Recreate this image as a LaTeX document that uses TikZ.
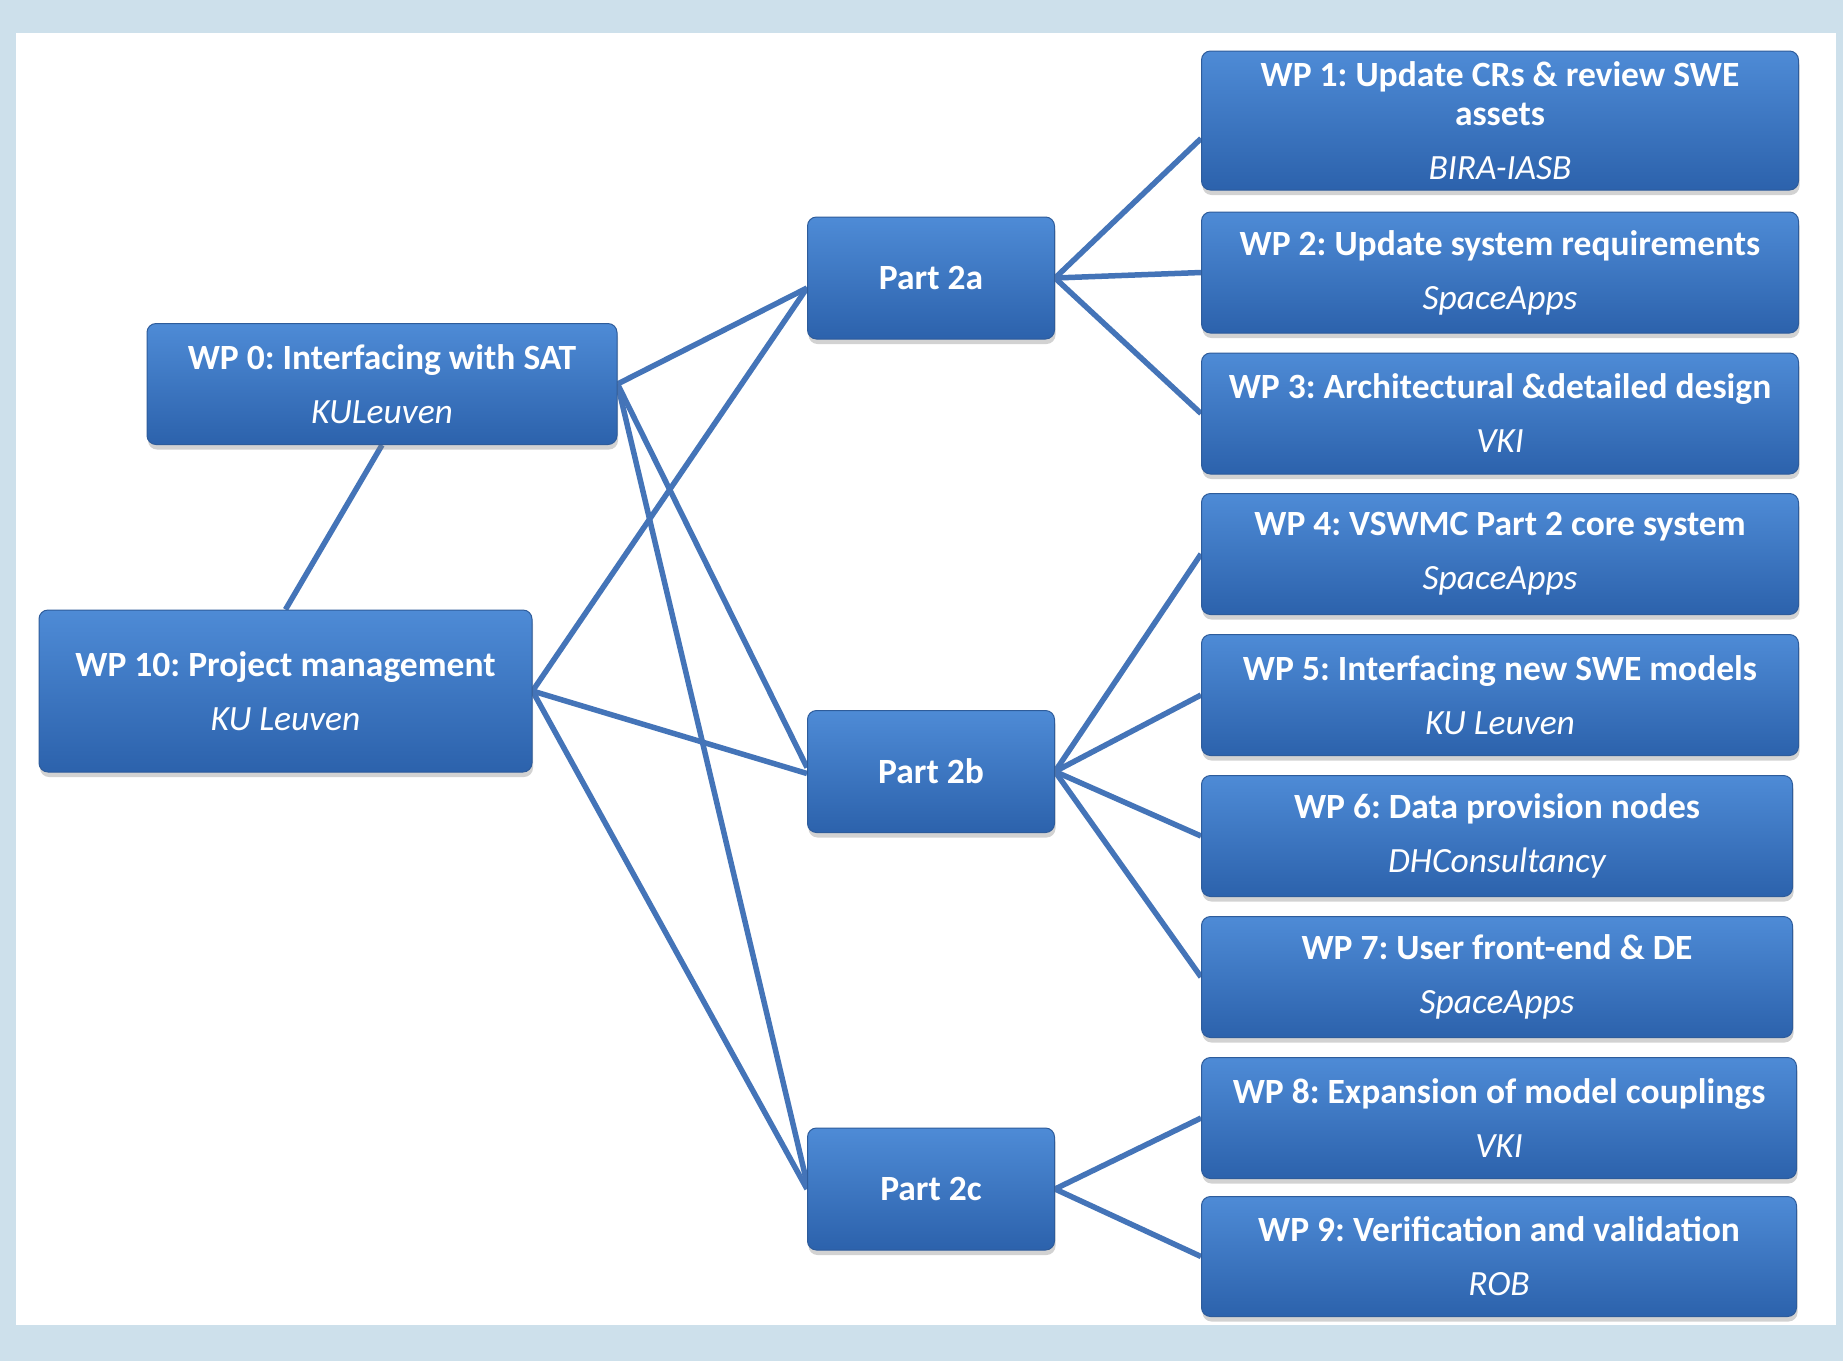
\documentclass[tikz,border=0pt]{standalone}
\usepackage{fontspec}
\setmainfont{Carlito}
\usetikzlibrary{shadows}
\definecolor{bgblue}{RGB}{205,224,235}
\definecolor{linecol}{RGB}{68,116,184}
\definecolor{boxtop}{RGB}{78,139,214}
\definecolor{boxmid}{RGB}{58,118,196}
\definecolor{boxbot}{RGB}{44,98,172}
\definecolor{boxedge}{RGB}{46,92,155}
\newcommand{\wporg}[1]{{\mdseries\itshape #1}}
\pgfdeclarelayer{back}
\pgfdeclarelayer{edges}
\pgfsetlayers{back,edges,main}
\frenchspacing
\begin{document}
\begin{tikzpicture}[x=1pt,y=-1pt,
  wpbox/.style={rectangle, rounded corners=9pt, draw=boxedge, line width=1pt,
    top color=boxtop, middle color=boxmid, bottom color=boxbot, text=white, align=center, inner sep=0pt,
    font=\frenchspacing\fontsize{35.5}{39}\selectfont\bfseries,
    drop shadow={shadow xshift=1pt, shadow yshift=-5pt, opacity=0.35}},
  conn/.style={draw=linecol, line width=5.5pt}]
\begin{pgfonlayer}{back}
\fill[bgblue] (0,0) rectangle (1843,1361);
\fill[white] (16,33) rectangle (1836,1325);
\end{pgfonlayer}
\useasboundingbox (0,0) rectangle (1843,1361);

\node[wpbox, minimum width=470pt, minimum height=121pt] (wp0) at (382,384)
  {WP 0: Interfacing with SAT\\[15pt]\wporg{KULeuven}};
\node[wpbox, minimum width=493pt, minimum height=162pt] (wp10) at (285.5,691)
  {WP 10: Project management\\[15pt]\wporg{KU Leuven}};

\node[wpbox, minimum width=247pt, minimum height=122pt] (p2a) at (931,278) {Part 2a};
\node[wpbox, minimum width=247pt, minimum height=122pt] (p2b) at (931,771.5) {Part 2b};
\node[wpbox, minimum width=247pt, minimum height=122pt] (p2c) at (931,1189) {Part 2c};

\node[wpbox, minimum width=597pt, minimum height=139pt] (wp1) at (1500,120.5)
  {WP 1: Update CRs \& review SWE\\assets\\[15pt]\wporg{BIRA-IASB}};
\node[wpbox, minimum width=597pt, minimum height=121pt] (wp2) at (1500,272.5)
  {WP 2: Update system requirements\\[15pt]\wporg{SpaceApps}};
\node[wpbox, minimum width=597pt, minimum height=121pt] (wp3) at (1500,413.5)
  {WP 3: Architectural \&detailed design\\[15pt]\wporg{VKI}};
\node[wpbox, minimum width=597pt, minimum height=121pt] (wp4) at (1500,554)
  {WP 4: VSWMC Part 2 core system\\[15pt]\wporg{SpaceApps}};
\node[wpbox, minimum width=597pt, minimum height=121pt] (wp5) at (1500,695)
  {WP 5: Interfacing new SWE models\\[15pt]\wporg{KU Leuven}};
\node[wpbox, minimum width=591pt, minimum height=121pt] (wp6) at (1497,836)
  {WP 6: Data provision nodes\\[15pt]\wporg{DHConsultancy}};
\node[wpbox, minimum width=591pt, minimum height=121pt] (wp7) at (1497,977)
  {WP 7: User front-end \& DE\\[15pt]\wporg{SpaceApps}};
\node[wpbox, minimum width=595pt, minimum height=121pt] (wp8) at (1499,1118)
  {WP 8: Expansion of model couplings\\[15pt]\wporg{VKI}};
\node[wpbox, minimum width=595pt, minimum height=120pt] (wp9) at (1499,1256.5)
  {WP 9: Verification and validation\\[15pt]\wporg{ROB}};

\begin{pgfonlayer}{edges}
\draw[conn] (wp0.south) -- (wp10.north);
\draw[conn] (wp0.east) -- ([yshift=-10pt]p2a.west);
\draw[conn] (wp0.east) -- ([yshift=4pt]p2b.west);
\draw[conn] (wp0.east) -- ([yshift=6pt]p2c.west);
\draw[conn] (wp10.east) -- ([yshift=-10pt]p2a.west);
\draw[conn] (wp10.east) -- ([yshift=-2pt]p2b.west);
\draw[conn] (wp10.east) -- (p2c.west);
\draw[conn] (p2a.east) -- ([yshift=-18pt]wp1.west);
\draw[conn] (p2a.east) -- (wp2.west);
\draw[conn] (p2a.east) -- (wp3.west);
\draw[conn] (p2b.east) -- (wp4.west);
\draw[conn] (p2b.east) -- (wp5.west);
\draw[conn] (p2b.east) -- (wp6.west);
\draw[conn] (p2b.east) -- (wp7.west);
\draw[conn] (p2c.east) -- (wp8.west);
\draw[conn] (p2c.east) -- (wp9.west);
\end{pgfonlayer}
\end{tikzpicture}
\end{document}
